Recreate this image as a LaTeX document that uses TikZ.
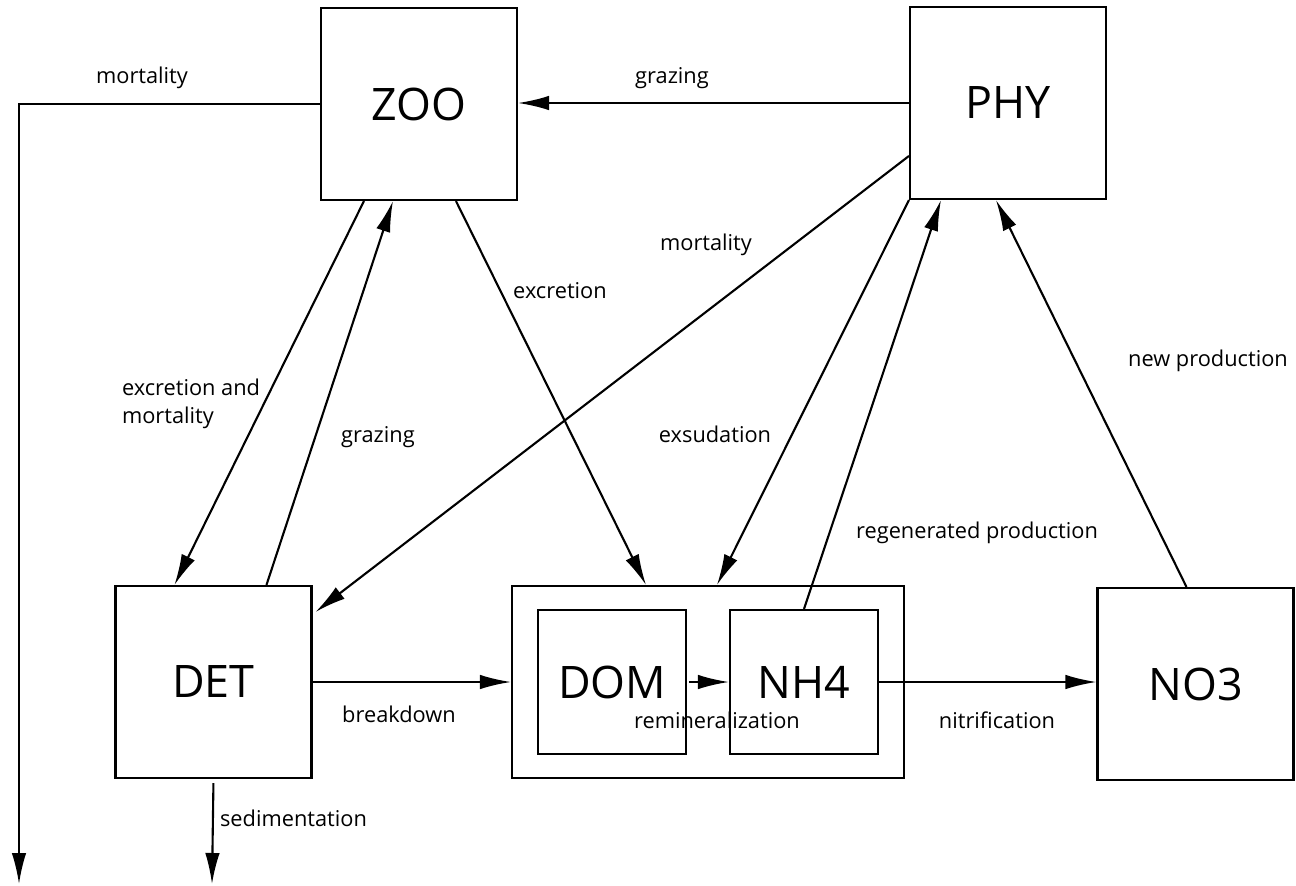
\documentclass[tikz,border=0pt]{standalone}
\usepackage{fontspec}
\setmainfont{Open Sans}
\usetikzlibrary{arrows.meta,calc}

\tikzset{
  pool/.style={draw, line width=1.2pt, minimum width=3.92cm, minimum height=3.84cm,
    inner sep=0pt, font=\fontsize{25.5}{30}\selectfont},
  subpool/.style={pool, minimum width=2.96cm, minimum height=2.88cm},
  flux/.style={font=\fontsize{12.4}{15.9}\selectfont, anchor=base, inner sep=0pt},
}

\begin{document}
\begin{tikzpicture}[x=0.02cm, y=-0.02cm, >={Latex[length=6.2mm,width=2.9mm]}, line width=1.2pt]
  \useasboundingbox (0,0) rectangle (1296,886);
  % pools
  \node[pool] (zoo) at (419,104) {ZOO};
  \node[pool] (phy) at (1008,103) {PHY};
  \node[pool] (det) at (213.5,682) {DET};
  \node[pool, minimum width=7.84cm] (nut) at (708,682) {};
  \node[subpool] (dom) at (612,682) {DOM};
  \node[subpool] (nh4) at (804,682) {NH4};
  \node[pool] (no3) at (1195.5,684) {NO3};
  % losses out of the box
  \coordinate (zloss) at (19,884);
  \coordinate (dloss) at (212,884);

  % fluxes
  \draw[->] (zoo.west) -| (zloss);
  \draw[->] (phy.west) -- (phy.west -| zoo.east);
  \draw[->] ($(zoo.south west)+(44,0)$) -- ($(det.north west)+(60,0)$);
  \draw[->] ($(det.north west)+(152,0)$) -- ($(zoo.south west)+(73,0)$);
  \draw[->] ($(zoo.south west)+(136,0)$) -- ($(nut.north west)+(135,0)$);
  \draw[->] ($(phy.north west)+(0,150)$) -- ($(det.north east)+(3,27)$);
  \draw[->] (phy.south west) -- ($(nut.north west)+(206,0)$);
  \draw[->] (nh4.north) -- ($(phy.south west)+(32,0)$);
  \draw[->] ($(no3.north)+(-9,0)$) -- ($(phy.south west)+(87,0)$);
  \draw[->] (det.east) -- (nut.west);
  \draw[->, shorten <=0.04cm] (dom.east) -- (nh4.west);
  \draw[->] (nh4.east) -- (nh4.east -| no3.west);
  \draw[->, shorten <=0.08cm] (det.south) -- (dloss);

  % labels
  \node[flux] (lzmort) at (142,83) {mortality};
  \node[flux] (lgraz) at (672,83) {grazing};
  \node[flux, anchor=west, align=left] (lexmort) at (121,404) {excretion and\\mortality};
  \node[flux] (lgraz2) at (378,442) {grazing};
  \node[flux] (lexcr) at (560,298) {excretion};
  \node[flux] (lpmort) at (706,250) {mortality};
  \node[flux] (lexs) at (715,442) {exsudation};
  \node[flux] (lregen) at (977,538) {regenerated production};
  \node[flux] (lnew) at (1208,366) {new production};
  \node[flux] (lbreak) at (399,722) {breakdown};
  \node[flux] (lremin) at (717,728) {remineralization};
  \node[flux] (lnitr) at (997,728) {nitrification};
  \node[flux, anchor=base west] (lsed) at (219,826) {sedimentation};
\end{tikzpicture}
\end{document}
